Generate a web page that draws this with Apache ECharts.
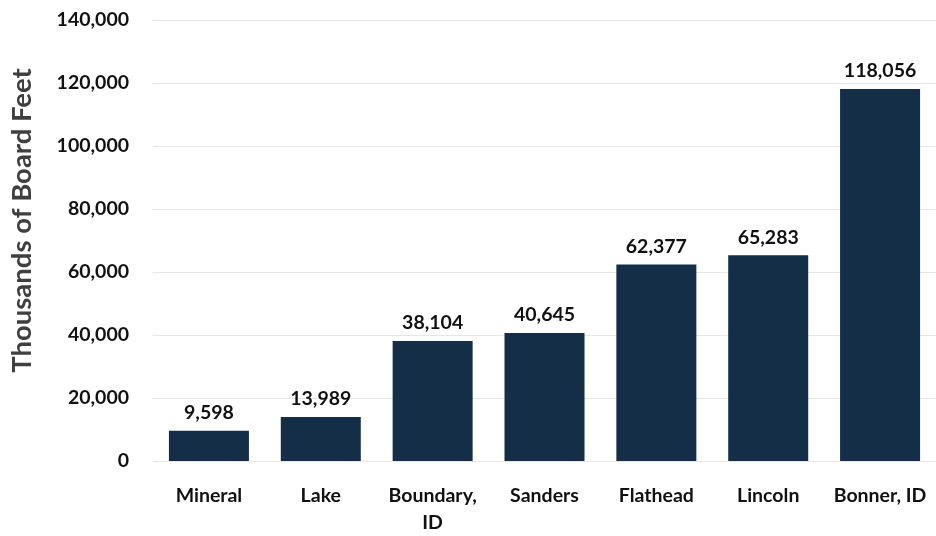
<!DOCTYPE html>
<html><head><meta charset="utf-8">
<script src="https://cdn.jsdelivr.net/npm/echarts@6/dist/echarts.min.js"></script>
<style>html,body{margin:0;padding:0;background:#fff}#c{width:936px;height:536px}</style>
</head><body><div id="c"></div>
<script>
const categories = ["Mineral", "Lake", "Boundary,\nID", "Sanders", "Flathead", "Lincoln", "Bonner, ID"];
const values = [9598, 13989, 38104, 40645, 62377, 65283, 118056];
const yTicks = { min: 0, max: 140000, interval: 20000 };
const yTitle = "Thousands of Board Feet";

const font = "Lato, 'Open Sans', sans-serif";
const chart = echarts.init(document.getElementById('c'));
chart.setOption({
  animation: false,
  backgroundColor: '#ffffff',
  grid: { left: 152, right: -2, top: 20, bottom: 74 },
  xAxis: {
    type: 'category', data: categories,
    axisLine: { show: false }, axisTick: { show: false },
    axisLabel: { interval: 0, hideOverlap: false, color: '#111', fontFamily: font, fontWeight: 'bold', fontSize: 19.5, margin: 21, lineHeight: 27 }
  },
  yAxis: {
    type: 'value', min: yTicks.min, max: yTicks.max, interval: yTicks.interval,
    name: yTitle, nameLocation: 'middle', nameGap: 117,
    nameTextStyle: { color: '#3f3f3f', fontFamily: font, fontWeight: 'bold', fontSize: 27.5, padding: [0, 0, 0, 40] },
    axisLine: { show: false }, axisTick: { show: false },
    splitLine: { lineStyle: { color: '#e6e6e6', width: 1 } },
    axisLabel: { color: '#111', fontFamily: font, fontWeight: 'bold', fontSize: 19.5, margin: 24,
      formatter: v => v.toLocaleString('en-US') }
  },
  series: [{
    type: 'bar', data: values, barWidth: 80,
    itemStyle: { color: '#132e46' },
    label: { show: true, position: 'top', distance: 8, color: '#111', fontFamily: font, fontWeight: 'bold', fontSize: 19.5,
      formatter: p => p.value.toLocaleString('en-US') }
  }]
});
</script></body></html>
